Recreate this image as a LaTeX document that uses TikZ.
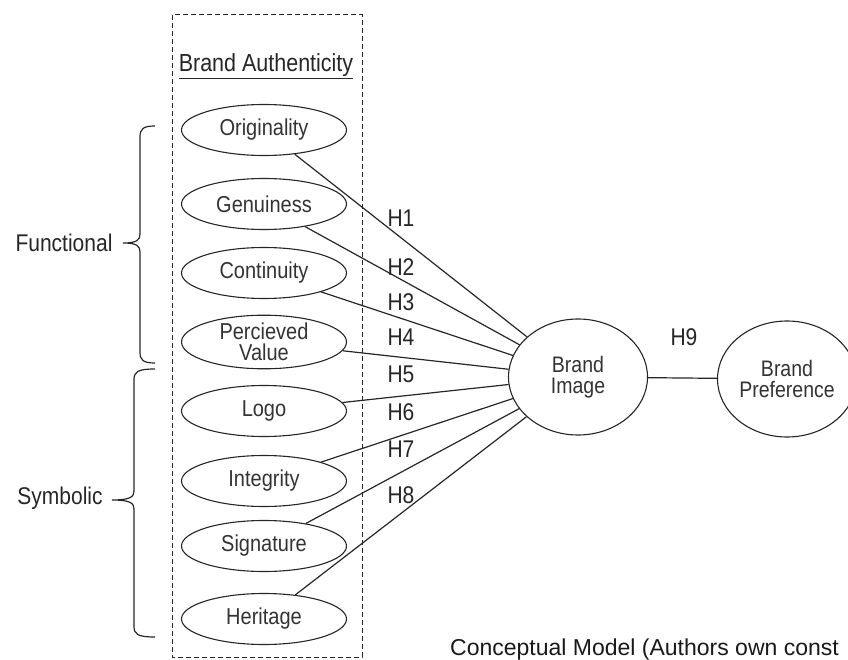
\documentclass[tikz,border=0pt]{standalone}
\usepackage{fontspec}
\setmainfont{Liberation Sans}
\usetikzlibrary{shapes.geometric}
\newcommand{\tall}[1]{\scalebox{1}[1.15]{#1}}

\begin{document}
\begin{tikzpicture}[
    x=1pt, y=-1pt,
    item/.style = {ellipse, draw=black!85, line width=1.1pt, minimum width=165pt, minimum height=51pt, inner sep=0pt, align=center, text=black!80, font=\fontsize{20}{21}\selectfont},
    big/.style = {ellipse, draw=black!85, line width=1.1pt, minimum width=139pt, minimum height=116pt, inner sep=0pt, align=center, text=black!80, font=\fontsize{19.5}{21}\selectfont},
    hyp/.style = {inner sep=0pt, text=black!85, font=\fontsize{21}{24}\selectfont},
    side/.style = {inner sep=0pt, text=black!85, font=\fontsize{21}{24}\selectfont},
    link/.style = {draw=black!85, line width=1.2pt},
    curly/.style = {draw=black!85, line width=1.2pt}
]
    \useasboundingbox (0,0) rectangle (848,660);

    \draw[black!85, line width=1pt, dash pattern=on 5pt off 3pt] (172,15) rectangle (362,657);
    \node[inner sep=0pt, text=black!85, font=\fontsize{21.5}{24}\selectfont] (title) at (266,66) {\tall{\underline{Brand Authenticity}}};

    \node[item] (orig) at (264,130) {\tall{Originality}};
    \node[item] (genu) at (264,204) {\tall{Genuiness}};
    \node[item] (cont) at (264,273) {\tall{Continuity}};
    \node[item] (perc) at (264,342) {\tall{Percieved}\\\tall{Value}};
    \node[item] (logo) at (264,411) {\tall{Logo}};
    \node[item] (inte) at (264,481) {\tall{Integrity}};
    \node[item] (sign) at (264,546) {\tall{Signature}};
    \node[item] (heri) at (264,619) {\tall{Heritage}};

    \node[big] (image) at (578,377) {\tall{Brand}\\\tall{Image}};
    \node[big] (pref) at (787,379) {\tall{Brand}\\\tall{Preference}};

    \path[link] (orig) -- (image);
    \path[link] (genu) -- (image);
    \path[link] (cont) -- (image);
    \path[link] (perc) -- (image);
    \path[link] (logo) -- (image);
    \path[link] (inte) -- (image);
    \path[link] (sign) -- (image);
    \path[link] (heri) -- (image);
    \path[link] (image) -- (pref);

    \node[hyp] (h1) at (401,218) {\tall{H1}};
    \node[hyp] (h2) at (401,267) {\tall{H2}};
    \node[hyp] (h3) at (401,302) {\tall{H3}};
    \node[hyp] (h4) at (401,337) {\tall{H4}};
    \node[hyp] (h5) at (401,374) {\tall{H5}};
    \node[hyp] (h6) at (401,412) {\tall{H6}};
    \node[hyp] (h7) at (401,449) {\tall{H7}};
    \node[hyp] (h8) at (401,495) {\tall{H8}};
    \node[hyp] (h9) at (684,337) {\tall{H9}};

    % braces on the left
    \path[curly] (155,126) .. controls (143,126) and (140,129) .. (140,137) -- (140,234)
        .. controls (140,240) and (137,243) .. (123,243) .. controls (137,243) and (140,246) .. (140,252)
        -- (140,352) .. controls (140,360) and (143,363) .. (155,363);
    \path[curly] (155,369) .. controls (137,369) and (134,372) .. (134,380) -- (134,491)
        .. controls (134,497) and (130,500) .. (112,500) .. controls (130,500) and (134,503) .. (134,509)
        -- (134,626) .. controls (134,634) and (137,637) .. (155,637);
    \node[side] (func) at (64,243) {\tall{Functional}};
    \node[side] (symb) at (60,498) {\tall{Symbolic}};

    \node[anchor=west, inner sep=0pt, text=black!90, font=\fontsize{23}{25}\selectfont] (caption) at (450,650) {Conceptual Model (Authors own const};
\end{tikzpicture}
\end{document}
